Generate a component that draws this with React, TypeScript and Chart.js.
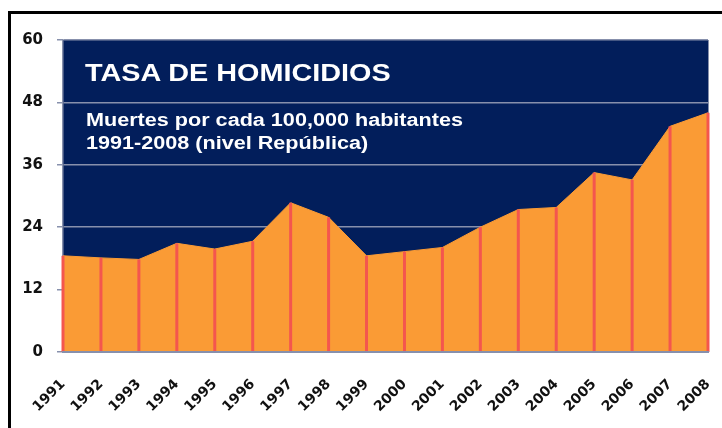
import React, { useEffect, useRef } from "react";
import { Chart, registerables } from "chart.js";

Chart.register(...registerables);

const years = ["1991","1992","1993","1994","1995","1996","1997","1998","1999","2000","2001","2002","2003","2004","2005","2006","2007","2008"];
const homicideRate = [18.5, 18.1, 17.8, 20.9, 19.8, 21.3, 28.7, 25.9, 18.5, 19.3, 20.1, 24.0, 27.4, 27.8, 34.5, 33.1, 43.4, 46.0];
const yTicks = [0, 12, 24, 36, 48, 60];
const titleText = "TASA DE HOMICIDIOS";
const subtitleLines = ["Muertes por cada 100,000 habitantes", "1991-2008 (nivel República)"];

const NAVY = "#021E5B";
const ORANGE = "#FA9B35";
const RED = "#F4564E";
const GRID = "#8790AC";
const FONT = "'Liberation Sans', Arial, sans-serif";
const TICK_FONT = "'DejaVu Sans', sans-serif";

const bgPlugin = {
  id: "navyBg",
  beforeDraw(chart: any) {
    const { ctx, chartArea } = chart;
    if (!chartArea) return;
    ctx.save();
    ctx.fillStyle = NAVY;
    ctx.fillRect(chartArea.left, chartArea.top, chartArea.right - chartArea.left, chartArea.bottom - chartArea.top);
    ctx.strokeStyle = GRID;
    ctx.lineWidth = 1;
    ctx.beginPath();
    ctx.moveTo(chartArea.right + 0.5, chartArea.top);
    ctx.lineTo(chartArea.right + 0.5, chartArea.bottom);
    ctx.stroke();
    ctx.restore();
  },
};

const dropLines = {
  id: "dropLines",
  afterDatasetsDraw(chart: any) {
    const { ctx } = chart;
    const meta = chart.getDatasetMeta(0);
    const yScale = chart.scales.y;
    const y0 = yScale.getPixelForValue(0);
    ctx.save();
    ctx.strokeStyle = RED;
    ctx.lineWidth = 3;
    meta.data.forEach((pt: any) => {
      ctx.beginPath();
      ctx.moveTo(pt.x, pt.y);
      ctx.lineTo(pt.x, y0);
      ctx.stroke();
    });
    ctx.restore();
  },
};

export default function App() {
  const ref = useRef<HTMLCanvasElement | null>(null);

  useEffect(() => {
    if (!ref.current) return;
    const chart = new Chart(ref.current, {
      type: "line",
      data: {
        labels: years,
        datasets: [
          {
            data: homicideRate,
            fill: "origin",
            backgroundColor: ORANGE,
            borderColor: ORANGE,
            borderWidth: 1,
            pointRadius: 0,
            tension: 0,
          },
        ],
      },
      options: {
        animation: false,
        responsive: false,
        events: [],
        layout: { padding: { left: 0, top: 40, right: 14, bottom: 0 } },
        plugins: { legend: { display: false }, tooltip: { enabled: false }, title: { display: false } },
        scales: {
          x: {
            type: "category",
            offset: false,
            grid: { display: false, drawTicks: false },
            border: { display: true, color: GRID, width: 2, z: 1 },
            ticks: {
              autoSkip: false,
              minRotation: 45,
              maxRotation: 45,
              padding: 24,
              color: "#111",
              font: { family: TICK_FONT, size: 14, weight: "bold" },
            },
            afterFit(scale: any) {
              scale.height = 76;
              scale.paddingLeft = 0;
              scale.paddingRight = 0;
            },
          },
          y: {
            min: 0,
            max: 60,
            afterBuildTicks(scale: any) {
              scale.ticks = yTicks.map((v) => ({ value: v }));
            },
            grid: { color: GRID, lineWidth: 1.5, tickLength: 6, drawTicks: true },
            border: { display: true, color: GRID, width: 1.5 },
            ticks: {
              padding: 14,
              color: "#111",
              font: { family: TICK_FONT, size: 15, weight: "bold" },
            },
            afterFit(scale: any) {
              scale.width = 63;
            },
          },
        },
      },
      plugins: [bgPlugin, dropLines],
    });
    return () => chart.destroy();
  }, []);

  const textBase: React.CSSProperties = {
    position: "absolute",
    color: "#fff",
    fontFamily: FONT,
    fontWeight: "bold",
    whiteSpace: "nowrap",
    transform: "scaleX(1.2)",
    transformOrigin: "left top",
  };

  return (
    <div style={{ position: "fixed", left: 0, top: 0, width: 722, height: 428, background: "#fff", overflow: "hidden" }}>
      <div
        style={{
          position: "absolute",
          left: 8,
          top: 11,
          width: 800,
          height: 500,
          borderTop: "3px solid #000",
          borderLeft: "3px solid #000",
        }}
      />
      <canvas ref={ref} width={722} height={428} style={{ position: "absolute", left: 0, top: 0, width: 722, height: 428 }} />
      <div style={{ ...textBase, left: 85, top: 61, fontSize: 24, lineHeight: "24px" }}>{titleText}</div>
      <div style={{ ...textBase, left: 86, top: 109, fontSize: 18, lineHeight: "23px" }}>
        {subtitleLines.map((l, i) => (
          <div key={i}>{l}</div>
        ))}
      </div>
    </div>
  );
}
